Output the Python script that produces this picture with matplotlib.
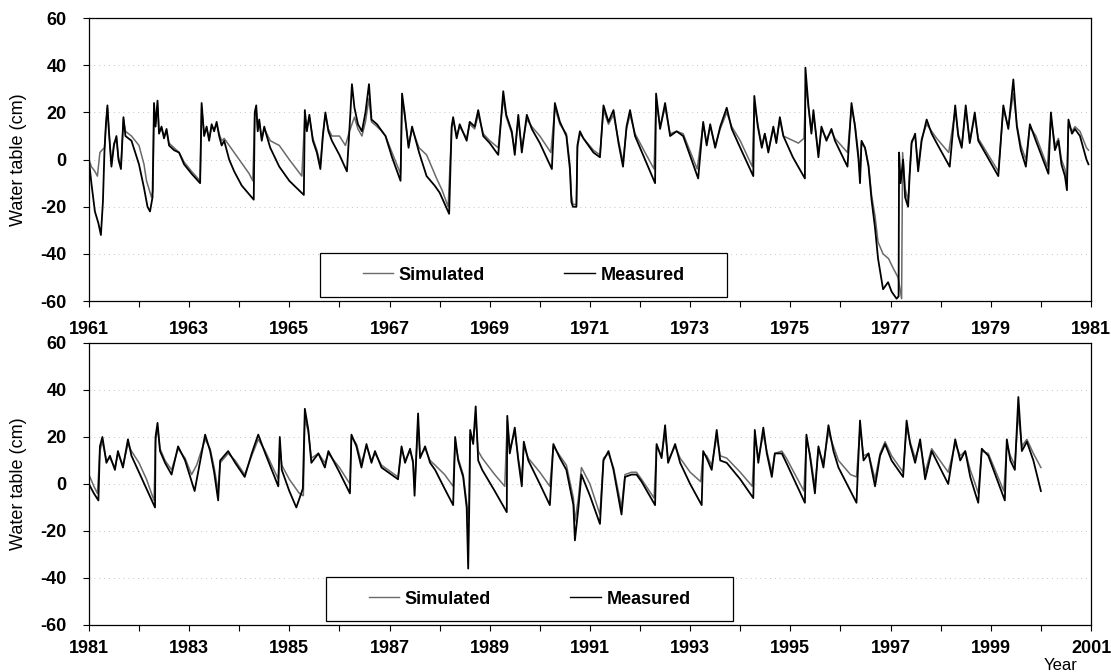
import numpy as np
import matplotlib
matplotlib.use("Agg")
import matplotlib.pyplot as plt
from matplotlib.patches import Rectangle

plt.rcParams['font.family'] = ['Liberation Sans', 'DejaVu Sans']

# (year, water table in cm)
top_meas = [
    (1961.00, 0), (1961.05, -10), (1961.12, -22), (1961.19, -27), (1961.24, -32), (1961.28, -18),
    (1961.31, 3), (1961.34, 15), (1961.37, 23), (1961.40, 12), (1961.45, -3), (1961.50, 6),
    (1961.55, 10), (1961.59, 0), (1961.64, -4), (1961.69, 18), (1961.73, 10), (1961.85, 8),
    (1962.00, -2), (1962.10, -12), (1962.17, -20), (1962.22, -22), (1962.27, -16), (1962.30, 24),
    (1962.33, 14), (1962.37, 25), (1962.40, 11), (1962.45, 14), (1962.50, 9), (1962.55, 13),
    (1962.60, 6), (1962.70, 4), (1962.80, 3), (1962.90, -2), (1963.05, -6), (1963.22, -10),
    (1963.25, 24), (1963.30, 10), (1963.35, 14), (1963.40, 8), (1963.45, 15), (1963.50, 12),
    (1963.55, 16), (1963.60, 10), (1963.65, 6), (1963.70, 8), (1963.80, 0), (1963.90, -5),
    (1964.05, -11), (1964.29, -17), (1964.31, 20), (1964.34, 23), (1964.37, 12), (1964.40, 17),
    (1964.45, 8), (1964.50, 14), (1964.55, 10), (1964.62, 5), (1964.80, -3), (1965.00, -9),
    (1965.29, -15), (1965.31, 21), (1965.35, 12), (1965.40, 19), (1965.47, 8), (1965.55, 3),
    (1965.62, -4), (1965.67, 10), (1965.72, 20), (1965.78, 12), (1965.85, 8), (1966.00, 2),
    (1966.15, -5), (1966.22, 20), (1966.25, 32), (1966.30, 22), (1966.37, 15), (1966.45, 12),
    (1966.52, 20), (1966.59, 32), (1966.64, 17), (1966.75, 15), (1966.85, 12), (1966.92, 10),
    (1967.05, 1), (1967.22, -9), (1967.25, 28), (1967.30, 20), (1967.38, 5), (1967.45, 14),
    (1967.59, 3), (1967.74, -7), (1967.90, -11), (1968.00, -14), (1968.19, -23), (1968.24, 14),
    (1968.27, 18), (1968.34, 9), (1968.40, 15), (1968.54, 8), (1968.60, 16), (1968.70, 14),
    (1968.77, 21), (1968.87, 10), (1969.00, 7), (1969.17, 2), (1969.27, 29), (1969.33, 19),
    (1969.44, 12), (1969.50, 2), (1969.57, 19), (1969.64, 3), (1969.74, 19), (1969.84, 13),
    (1970.00, 7), (1970.24, -4), (1970.30, 24), (1970.40, 16), (1970.53, 10), (1970.60, -4),
    (1970.63, -18), (1970.66, -20), (1970.73, -20), (1970.75, 6), (1970.80, 12), (1970.87, 9),
    (1971.07, 3), (1971.20, 1), (1971.27, 23), (1971.37, 16), (1971.47, 21), (1971.57, 7),
    (1971.66, -3), (1971.73, 14), (1971.80, 21), (1971.90, 10), (1972.10, 0), (1972.30, -10),
    (1972.32, 28), (1972.40, 13), (1972.50, 24), (1972.60, 10), (1972.73, 12), (1972.86, 10),
    (1973.16, -8), (1973.26, 16), (1973.33, 6), (1973.40, 15), (1973.50, 5), (1973.60, 14),
    (1973.73, 22), (1973.83, 13), (1974.00, 5), (1974.26, -7), (1974.28, 27), (1974.35, 14),
    (1974.43, 5), (1974.49, 11), (1974.56, 3), (1974.66, 14), (1974.72, 7), (1974.79, 18),
    (1974.86, 10), (1975.05, 1), (1975.29, -8), (1975.30, 39), (1975.36, 23), (1975.42, 11),
    (1975.46, 21), (1975.56, 1), (1975.62, 14), (1975.72, 8), (1975.82, 13), (1975.89, 8),
    (1976.14, -3), (1976.22, 24), (1976.29, 14), (1976.36, 0), (1976.39, -10), (1976.42, 8),
    (1976.49, 5), (1976.56, -3), (1976.62, -17), (1976.69, -29), (1976.75, -42), (1976.85, -55),
    (1976.95, -52), (1977.02, -56), (1977.12, -59), (1977.16, -58), (1977.17, 3), (1977.20, -10),
    (1977.25, 0), (1977.29, -16), (1977.35, -20), (1977.38, -7), (1977.42, 7), (1977.49, 11),
    (1977.55, -5), (1977.62, 8), (1977.72, 17), (1977.82, 11), (1977.92, 7), (1978.18, -3),
    (1978.29, 23), (1978.35, 10), (1978.42, 5), (1978.50, 23), (1978.58, 7), (1978.68, 20),
    (1978.75, 8), (1979.15, -7), (1979.25, 23), (1979.35, 13), (1979.45, 34), (1979.52, 14),
    (1979.60, 4), (1979.70, -3), (1979.78, 15), (1979.90, 8), (1980.15, -6), (1980.20, 20),
    (1980.28, 4), (1980.35, 8), (1980.41, -2), (1980.48, -7), (1980.52, -13), (1980.55, 17),
    (1980.62, 11), (1980.68, 13), (1980.78, 10), (1980.91, 0), (1980.95, -2),
]

top_sim = [
    (1961.00, 0), (1961.05, -3), (1961.12, -5), (1961.17, -7), (1961.22, 3), (1961.26, 4),
    (1961.31, 5), (1961.34, 14), (1961.37, 22), (1961.40, 12), (1961.45, -2), (1961.50, 7),
    (1961.55, 9), (1961.59, 1), (1961.64, -3), (1961.69, 17), (1961.73, 12), (1961.85, 10),
    (1962.00, 6), (1962.10, -2), (1962.15, -9), (1962.25, -16), (1962.28, -13), (1962.30, 22),
    (1962.33, 15), (1962.37, 23), (1962.40, 12), (1962.45, 13), (1962.50, 10), (1962.55, 12),
    (1962.60, 7), (1962.70, 5), (1962.80, 3), (1962.90, -1), (1963.05, -5), (1963.22, -9),
    (1963.25, 22), (1963.30, 11), (1963.35, 13), (1963.40, 9), (1963.45, 14), (1963.50, 13),
    (1963.55, 15), (1963.60, 11), (1963.65, 8), (1963.70, 9), (1963.80, 6), (1964.00, 0),
    (1964.20, -6), (1964.27, -9), (1964.31, 18), (1964.34, 21), (1964.37, 13), (1964.40, 16),
    (1964.45, 9), (1964.50, 13), (1964.55, 11), (1964.62, 8), (1964.80, 6), (1965.00, 0),
    (1965.25, -7), (1965.31, 19), (1965.35, 13), (1965.40, 18), (1965.47, 9), (1965.55, 4),
    (1965.62, -2), (1965.67, 11), (1965.72, 19), (1965.78, 13), (1965.85, 10), (1966.00, 10),
    (1966.12, 6), (1966.20, 12), (1966.30, 18), (1966.37, 13), (1966.45, 10), (1966.52, 16),
    (1966.59, 26), (1966.64, 16), (1966.75, 14), (1966.85, 12), (1966.92, 10), (1967.05, 3),
    (1967.22, -6), (1967.25, 26), (1967.30, 19), (1967.38, 6), (1967.45, 13), (1967.59, 5),
    (1967.74, 2), (1967.94, -8), (1968.05, -13), (1968.17, -20), (1968.24, 13), (1968.27, 17),
    (1968.34, 10), (1968.40, 14), (1968.54, 9), (1968.60, 15), (1968.70, 13), (1968.77, 19),
    (1968.87, 11), (1969.00, 8), (1969.17, 5), (1969.27, 26), (1969.33, 18), (1969.44, 11),
    (1969.50, 4), (1969.57, 17), (1969.64, 5), (1969.74, 17), (1969.84, 14), (1970.00, 10),
    (1970.22, 3), (1970.30, 22), (1970.40, 15), (1970.53, 11), (1970.60, -2), (1970.63, -15),
    (1970.66, -19), (1970.73, -19), (1970.75, 5), (1970.80, 11), (1970.87, 9), (1971.07, 4),
    (1971.20, 2), (1971.27, 21), (1971.37, 15), (1971.47, 19), (1971.57, 8), (1971.66, -1),
    (1971.73, 13), (1971.80, 19), (1971.90, 11), (1972.10, 3), (1972.28, -4), (1972.32, 25),
    (1972.40, 14), (1972.50, 22), (1972.60, 11), (1972.73, 12), (1972.86, 11), (1973.14, -4),
    (1973.26, 15), (1973.33, 7), (1973.40, 14), (1973.50, 6), (1973.60, 13), (1973.73, 20),
    (1973.83, 14), (1974.00, 8), (1974.24, -3), (1974.28, 24), (1974.35, 15), (1974.43, 6),
    (1974.49, 11), (1974.56, 4), (1974.66, 13), (1974.72, 8), (1974.79, 17), (1974.86, 10),
    (1975.16, 7), (1975.27, 9), (1975.31, 32), (1975.36, 22), (1975.42, 12), (1975.46, 19),
    (1975.56, 3), (1975.62, 13), (1975.72, 9), (1975.82, 12), (1975.89, 9), (1976.14, 3),
    (1976.22, 22), (1976.29, 15), (1976.36, 2), (1976.39, -7), (1976.42, 7), (1976.49, 5),
    (1976.56, -2), (1976.62, -15), (1976.69, -24), (1976.75, -35), (1976.85, -40), (1976.96, -42),
    (1977.05, -46), (1977.15, -50), (1977.22, -59), (1977.24, 3), (1977.29, -12), (1977.35, -18),
    (1977.38, -5), (1977.42, 8), (1977.49, 10), (1977.55, -3), (1977.62, 9), (1977.72, 15),
    (1977.82, 12), (1977.92, 9), (1978.16, 3), (1978.29, 21), (1978.35, 11), (1978.42, 6),
    (1978.50, 21), (1978.58, 8), (1978.68, 18), (1978.75, 9), (1979.15, -5), (1979.25, 21),
    (1979.35, 14), (1979.45, 28), (1979.52, 15), (1979.60, 6), (1979.70, 0), (1979.78, 14),
    (1979.90, 10), (1980.13, -3), (1980.20, 18), (1980.28, 6), (1980.35, 9), (1980.41, 0),
    (1980.48, -4), (1980.52, -9), (1980.55, 15), (1980.62, 12), (1980.68, 14), (1980.78, 12),
    (1980.91, 5), (1980.95, 4),
]

bot_meas = [
    (1981.00, 0), (1981.10, -4), (1981.19, -7), (1981.22, 16), (1981.27, 20), (1981.35, 9),
    (1981.42, 12), (1981.52, 6), (1981.58, 14), (1981.68, 7), (1981.78, 19), (1981.85, 12),
    (1982.00, 5), (1982.15, -2), (1982.32, -10), (1982.33, 20), (1982.37, 26), (1982.42, 14),
    (1982.52, 9), (1982.65, 4), (1982.78, 16), (1982.92, 10), (1983.11, -3), (1983.32, 21),
    (1983.42, 14), (1983.50, 5), (1983.58, -7), (1983.62, 10), (1983.78, 14), (1983.92, 9),
    (1984.11, 3), (1984.25, 13), (1984.38, 21), (1984.52, 13), (1984.65, 6), (1984.78, -1),
    (1984.81, 20), (1984.85, 6), (1985.00, -3), (1985.14, -10), (1985.27, -2), (1985.31, 32),
    (1985.38, 23), (1985.44, 9), (1985.58, 13), (1985.71, 7), (1985.78, 14), (1986.00, 5),
    (1986.21, -4), (1986.24, 21), (1986.34, 16), (1986.44, 7), (1986.54, 17), (1986.64, 9),
    (1986.71, 14), (1986.84, 7), (1987.17, 2), (1987.24, 16), (1987.31, 9), (1987.41, 15),
    (1987.47, 9), (1987.50, -5), (1987.57, 30), (1987.61, 11), (1987.71, 16), (1987.81, 9),
    (1987.91, 6), (1988.10, -2), (1988.27, -9), (1988.31, 20), (1988.37, 10), (1988.47, 3),
    (1988.54, -10), (1988.57, -36), (1988.59, -11), (1988.61, 23), (1988.67, 17), (1988.72, 33),
    (1988.77, 10), (1988.85, 6), (1989.10, -3), (1989.34, -12), (1989.35, 29), (1989.40, 13),
    (1989.50, 24), (1989.57, 10), (1989.64, -1), (1989.68, 18), (1989.77, 10), (1990.00, 0),
    (1990.20, -9), (1990.27, 17), (1990.40, 11), (1990.53, 6), (1990.67, -9), (1990.70, -24),
    (1990.77, -10), (1990.83, 4), (1991.00, -5), (1991.20, -17), (1991.27, 10), (1991.37, 14),
    (1991.47, 6), (1991.63, -13), (1991.70, 3), (1991.83, 4), (1991.93, 4), (1992.03, 1),
    (1992.30, -9), (1992.33, 17), (1992.43, 11), (1992.50, 25), (1992.56, 9), (1992.70, 17),
    (1992.80, 9), (1993.00, 0), (1993.23, -9), (1993.26, 14), (1993.33, 11), (1993.43, 6),
    (1993.53, 23), (1993.60, 10), (1993.73, 9), (1994.00, 2), (1994.26, -6), (1994.29, 23),
    (1994.36, 9), (1994.46, 24), (1994.53, 13), (1994.63, 3), (1994.69, 13), (1994.83, 13),
    (1994.92, 9), (1995.29, -8), (1995.32, 21), (1995.39, 12), (1995.49, -4), (1995.56, 16),
    (1995.66, 7), (1995.76, 25), (1995.86, 14), (1995.96, 7), (1996.32, -8), (1996.39, 27),
    (1996.46, 10), (1996.56, 13), (1996.69, -1), (1996.79, 12), (1996.89, 17), (1997.02, 10),
    (1997.25, 3), (1997.32, 27), (1997.39, 17), (1997.49, 9), (1997.59, 19), (1997.69, 2),
    (1997.82, 14), (1998.15, 0), (1998.29, 19), (1998.39, 10), (1998.49, 14), (1998.59, 3),
    (1998.69, -4), (1998.75, -8), (1998.82, 15), (1998.95, 12), (1999.28, -7), (1999.32, 19),
    (1999.39, 10), (1999.48, 6), (1999.55, 37), (1999.62, 14), (1999.72, 18), (1999.85, 10),
    (2000.00, -3),
]

bot_sim = [
    (1981.00, 4), (1981.10, -1), (1981.17, -4), (1981.22, 14), (1981.27, 18), (1981.35, 10),
    (1981.42, 11), (1981.52, 7), (1981.58, 13), (1981.68, 8), (1981.78, 17), (1981.85, 14),
    (1982.00, 9), (1982.15, 2), (1982.30, -7), (1982.33, 18), (1982.37, 24), (1982.42, 15),
    (1982.52, 10), (1982.65, 6), (1982.78, 15), (1982.92, 11), (1983.05, 4), (1983.15, 8),
    (1983.32, 19), (1983.42, 15), (1983.50, 7), (1983.58, -3), (1983.62, 9), (1983.78, 13),
    (1983.92, 10), (1984.11, 4), (1984.25, 12), (1984.38, 19), (1984.52, 14), (1984.65, 8),
    (1984.78, 2), (1984.81, 17), (1984.85, 8), (1985.00, 2), (1985.20, -4), (1985.28, -5),
    (1985.31, 28), (1985.38, 22), (1985.44, 11), (1985.58, 13), (1985.71, 9), (1985.78, 13),
    (1986.00, 7), (1986.21, 0), (1986.24, 20), (1986.34, 17), (1986.44, 9), (1986.54, 16),
    (1986.64, 10), (1986.71, 13), (1986.84, 8), (1987.17, 3), (1987.24, 15), (1987.31, 10),
    (1987.41, 14), (1987.47, 10), (1987.50, -2), (1987.57, 26), (1987.61, 12), (1987.71, 15),
    (1987.81, 10), (1987.91, 8), (1988.10, 4), (1988.27, -1), (1988.31, 18), (1988.37, 11),
    (1988.47, 4), (1988.54, -8), (1988.57, -15), (1988.59, -8), (1988.61, 21), (1988.67, 18),
    (1988.72, 28), (1988.77, 14), (1988.85, 11), (1989.10, 4), (1989.30, -1), (1989.35, 27),
    (1989.40, 15), (1989.50, 22), (1989.57, 11), (1989.64, 2), (1989.68, 16), (1989.77, 11),
    (1990.00, 5), (1990.20, -1), (1990.27, 16), (1990.40, 12), (1990.53, 8), (1990.67, -6),
    (1990.70, -16), (1990.77, -6), (1990.83, 7), (1991.00, 0), (1991.20, -13), (1991.27, 11),
    (1991.37, 13), (1991.47, 7), (1991.63, -10), (1991.70, 4), (1991.83, 5), (1991.93, 5),
    (1992.03, 2), (1992.28, -6), (1992.33, 16), (1992.43, 12), (1992.50, 22), (1992.56, 10),
    (1992.70, 16), (1992.80, 11), (1993.00, 5), (1993.21, 1), (1993.26, 13), (1993.33, 12),
    (1993.43, 8), (1993.53, 20), (1993.60, 12), (1993.73, 11), (1994.00, 5), (1994.24, -1),
    (1994.29, 21), (1994.36, 11), (1994.46, 21), (1994.53, 14), (1994.63, 5), (1994.69, 13),
    (1994.83, 14), (1994.92, 11), (1995.27, -3), (1995.32, 19), (1995.39, 13), (1995.49, -1),
    (1995.56, 15), (1995.66, 9), (1995.76, 22), (1995.86, 16), (1995.96, 10), (1996.20, 4),
    (1996.32, 3), (1996.39, 24), (1996.46, 12), (1996.56, 13), (1996.69, 2), (1996.79, 13),
    (1996.89, 18), (1997.02, 12), (1997.25, 5), (1997.32, 24), (1997.39, 18), (1997.49, 11),
    (1997.59, 17), (1997.69, 5), (1997.82, 15), (1998.15, 5), (1998.29, 17), (1998.39, 12),
    (1998.49, 14), (1998.59, 6), (1998.69, 0), (1998.75, -4), (1998.82, 14), (1998.95, 13),
    (1999.26, -3), (1999.32, 17), (1999.39, 12), (1999.48, 8), (1999.55, 30), (1999.62, 16),
    (1999.72, 19), (1999.85, 13), (2000.00, 7),
]

panels = [
    (top_meas, top_sim, 1961, [0.080, 0.552, 0.902, 0.421], (0.2305, 0.014), 10),
    (bot_meas, bot_sim, 1981, [0.080, 0.070, 0.902, 0.4196], (0.2365, 0.014), 7),
]

fig = plt.figure(figsize=(11.11, 6.72), dpi=100)

for meas, sim, start, rect, box_xy, xpad in panels:
    ax = fig.add_axes(rect)
    m = np.array(meas)
    s = np.array(sim)
    ax.plot(s[:, 0], s[:, 1], color='#6a6a6a', lw=1.1, label='Simulated', zorder=2)
    ax.plot(m[:, 0], m[:, 1], color='black', lw=1.3, label='Measured', zorder=3)

    ax.set_xlim(start, start + 20)
    ax.set_ylim(-60, 60)
    years = list(range(start, start + 21))
    ax.set_xticks(years)
    ax.set_xticklabels([str(y) if (y - start) % 2 == 0 else '' for y in years],
                       fontsize=13, fontweight='bold')
    ax.set_yticks(range(-60, 61, 20))
    ax.set_yticklabels([str(v) for v in range(-60, 61, 20)], fontsize=13, fontweight='bold')
    ax.tick_params(axis='x', direction='out', length=4, width=0.8, pad=xpad)
    ax.tick_params(axis='y', direction='out', length=4, width=0.8, pad=12)
    ax.yaxis.grid(True, linestyle=(0, (1, 4)), color='#c4c4c4', lw=0.7)
    ax.set_axisbelow(True)
    for sp in ax.spines.values():
        sp.set_linewidth(0.9)
    ax.set_ylabel('Water table (cm)', fontsize=13, labelpad=10)

    # legend box
    ax.add_patch(Rectangle(box_xy, 0.4065, 0.156, transform=ax.transAxes,
                           fill=True, facecolor='white', edgecolor='black', lw=0.9, zorder=4))
    leg = ax.legend(loc='center', bbox_to_anchor=(box_xy[0] + 0.4065 / 2, box_xy[1] + 0.078),
                    ncol=2, frameon=False, handlelength=1.7, handletextpad=0.3,
                    columnspacing=4.4, prop={'size': 13, 'weight': 'bold'})
    leg.set_zorder(5)
    for line in leg.get_lines():
        line.set_linewidth(1.0)

fig.text(0.955, -0.002, 'Year', fontsize=12, ha='center', va='bottom')

fig.savefig('out.png', dpi=100)
